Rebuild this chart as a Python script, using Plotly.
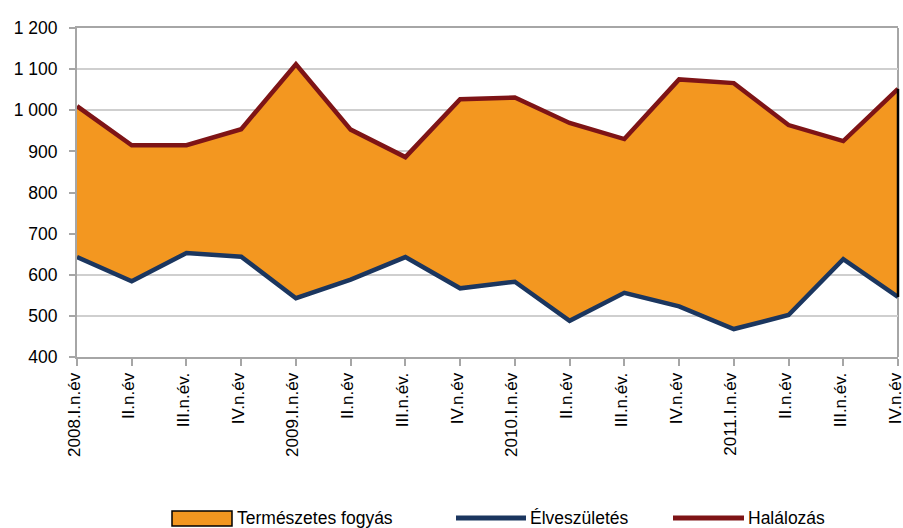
import plotly.graph_objects as go

categories = ["2008.I.n.év", "II.n.év", "III.n.év.", "IV.n.év",
              "2009.I.n.év", "II.n.év", "III.n.év.", "IV.n.év",
              "2010.I.n.év", "II.n.év", "III.n.év.", "IV.n.év",
              "2011.I.n.év", "II.n.év", "III.n.év.", "IV.n.év"]
elveszuletes = [643, 584, 653, 644, 543, 588, 643, 567, 583, 488, 556, 523, 468, 502, 638, 546]
halalozas = [1010, 915, 915, 954, 1112, 953, 886, 1027, 1031, 969, 930, 1075, 1066, 964, 925, 1052]
y_ticks = [400, 500, 600, 700, 800, 900, 1000, 1100, 1200]
y_ticktext = ["400", "500", "600", "700", "800", "900", "1 000", "1 100", "1 200"]
legend_names = ["Természetes fogyás", "Élveszületés", "Halálozás"]

ORANGE = "#F39720"
BLUE = "#1B365F"
RED = "#7E1416"
FONT = "Liberation Sans"

xs = list(range(len(categories)))

fig = go.Figure()
# Orange area between the two series
fig.add_trace(go.Scatter(
    x=xs + xs[::-1], y=halalozas + elveszuletes[::-1],
    fill="toself", fillcolor=ORANGE, mode="lines",
    line=dict(width=0, color=ORANGE), hoverinfo="skip", showlegend=False,
    name=legend_names[0]))
fig.add_trace(go.Scatter(x=xs, y=elveszuletes, mode="lines", name=legend_names[1],
                         line=dict(color=BLUE, width=4.5), showlegend=False))
fig.add_trace(go.Scatter(x=xs, y=halalozas, mode="lines", name=legend_names[2],
                         line=dict(color=RED, width=4.5), showlegend=False))

# body margin is removed in the page (post_script), so figure fills the window
W, H = 903, 528
L, T = 77, 28
R = W - 898
B = H - 357
pw, ph = W - L - R, H - T - B

def px(xp):
    return (xp - L) / pw

def py(yp):
    return (H - B - yp) / ph

shapes = [
    # right frame line
    dict(type="line", xref="paper", yref="paper", x0=1, x1=1, y0=0, y1=1,
         line=dict(color="#A6A6A6", width=2), layer="below"),
    # black border of the area at the right edge
    dict(type="line", xref="paper", yref="y", x0=1, x1=1,
         y0=elveszuletes[-1], y1=halalozas[-1],
         line=dict(color="black", width=2.5), layer="above"),
    # legend: orange box
    dict(type="rect", xref="paper", yref="paper", x0=px(172), x1=px(232), y0=py(526), y1=py(511),
         fillcolor=ORANGE, line=dict(color="black", width=1.5)),
    # legend: blue line
    dict(type="line", xref="paper", yref="paper", x0=px(456), x1=px(526), y0=py(518), y1=py(518),
         line=dict(color=BLUE, width=5)),
    # legend: red line
    dict(type="line", xref="paper", yref="paper", x0=px(673), x1=px(744), y0=py(518), y1=py(518),
         line=dict(color=RED, width=5)),
]
annotations = [
    dict(xref="paper", yref="paper", x=px(235), y=py(518), text=legend_names[0],
         xanchor="left", yanchor="middle", showarrow=False, font=dict(family=FONT, size=17.5, color="black")),
    dict(xref="paper", yref="paper", x=px(528), y=py(518), text=legend_names[1],
         xanchor="left", yanchor="middle", showarrow=False, font=dict(family=FONT, size=17.5, color="black")),
    dict(xref="paper", yref="paper", x=px(746), y=py(518), text=legend_names[2],
         xanchor="left", yanchor="middle", showarrow=False, font=dict(family=FONT, size=17.5, color="black")),
]

fig.update_layout(
    width=W, height=H,
    margin=dict(l=L, r=R, t=T, b=B, pad=0, autoexpand=False),
    paper_bgcolor="white", plot_bgcolor="white",
    showlegend=False,
    shapes=shapes, annotations=annotations,
    font=dict(family=FONT, size=17, color="black"),
)
fig.update_xaxes(
    range=[0, len(categories) - 1], tickmode="array", tickvals=xs, ticktext=categories,
    tickangle=-90, showgrid=False, zeroline=False, automargin=False,
    showline=True, linecolor="#A6A6A6", linewidth=2, mirror=True,
    ticks="outside", ticklen=7, tickwidth=1.5, tickcolor="#A6A6A6",
    ticklabeloverflow="allow", ticklabelshift=-3,
    tickfont=dict(family=FONT, size=17, color="black"),
)
fig.update_yaxes(
    range=[400, 1200], tickmode="array", tickvals=y_ticks, ticktext=y_ticktext,
    showgrid=True, gridcolor="#CFCFCF", gridwidth=1.5, zeroline=False, automargin=False,
    showline=True, linecolor="#A6A6A6", linewidth=2,
    ticks="outside", ticklen=6, tickwidth=1.5, tickcolor="#A6A6A6",
    ticklabelstandoff=8,
    tickfont=dict(family=FONT, size=17.5, color="black"),
)

fig.write_html(
    "out.html",
    config={"displayModeBar": False},
    post_script="document.body.style.margin='0';document.body.style.overflow='hidden';",
)
